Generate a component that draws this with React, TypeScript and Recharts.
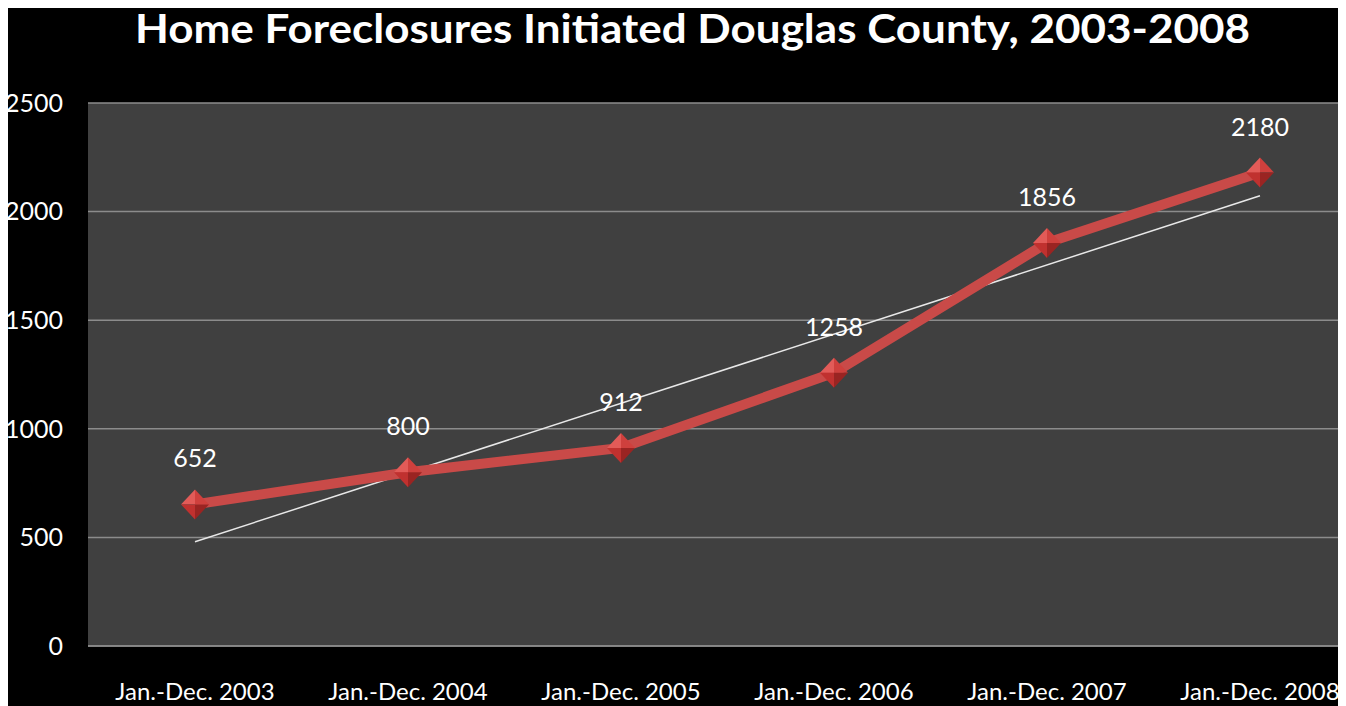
import { CartesianGrid, LabelList, Line, LineChart, ReferenceLine, XAxis, YAxis } from "recharts";

const TITLE = "Home Foreclosures Initiated Douglas County, 2003-2008";
const periods = ["Jan.-Dec. 2003", "Jan.-Dec. 2004", "Jan.-Dec. 2005", "Jan.-Dec. 2006", "Jan.-Dec. 2007", "Jan.-Dec. 2008"];
const foreclosures = [652, 800, 912, 1258, 1856, 2180];
const yTicks = [0, 500, 1000, 1500, 2000, 2500];
// linear trendline endpoints
const trendStart = 480;
const trendEnd = 2073;

const data = periods.map((period, i) => ({ period, value: foreclosures[i] }));

const FONT = "Lato, 'Open Sans', sans-serif";

function Diamond(props: any) {
  const { cx, cy } = props;
  if (cx == null || cy == null) return null;
  const w = 14;
  const h = 15;
  return (
    <g>
      <polygon points={`${cx},${cy} ${cx - w},${cy} ${cx},${cy - h}`} fill="#e25b58" />
      <polygon points={`${cx},${cy} ${cx},${cy - h} ${cx + w},${cy}`} fill="#cf403d" />
      <polygon points={`${cx},${cy} ${cx - w},${cy} ${cx},${cy + h}`} fill="#c0312f" />
      <polygon points={`${cx},${cy} ${cx},${cy + h} ${cx + w},${cy}`} fill="#9a2422" />
    </g>
  );
}

export default function App() {
  // body keeps its default 8px margin, which gives the white strip at top/left
  return (
    <div style={{ position: "relative", width: 1338, height: 698, background: "#000", overflow: "hidden" }}>
      <svg width={1338} height={60} style={{ position: "absolute", left: 0, top: 0 }}>
        <text
          x={127}
          y={35}
          fill="#fff"
          fontFamily={FONT}
          fontWeight={700}
          fontSize={41}
          textLength={1115}
          lengthAdjust="spacingAndGlyphs"
        >
          {TITLE}
        </text>
      </svg>
      <div style={{ position: "absolute", left: 0, top: 0 }}>
        <LineChart width={1358} height={698} data={data} margin={{ top: 95, right: 0, left: 0, bottom: 0 }}>
          <CartesianGrid vertical={false} fill="#404040" stroke="#8c8c8c" strokeWidth={1.5} />
          <XAxis
            dataKey="period"
            height={60}
            interval={0}
            padding={{ left: 107, right: 106 }}
            tickLine={false}
            tickSize={0}
            tickMargin={37}
            axisLine={{ stroke: "#8c8c8c", strokeWidth: 1.5 }}
            tick={{ fill: "#fff", fontSize: 24, fontFamily: FONT }}
          />
          <YAxis
            width={80}
            domain={[0, 2500]}
            ticks={yTicks}
            axisLine={false}
            tickLine={false}
            tickSize={0}
            tickMargin={25}
            tick={{ fill: "#fff", fontSize: 25, fontFamily: FONT }}
          />
          <ReferenceLine
            segment={[
              { x: periods[0], y: trendStart },
              { x: periods[periods.length - 1], y: trendEnd },
            ]}
            stroke="#e8e8e8"
            strokeWidth={1.5}
            ifOverflow="visible"
          />
          <Line
            type="linear"
            dataKey="value"
            stroke="#c94a48"
            strokeWidth={10}
            dot={<Diamond />}
            activeDot={false}
            isAnimationActive={false}
          >
            <LabelList
              dataKey="value"
              position="top"
              offset={37}
              fill="#fff"
              fontSize={25}
              fontFamily={FONT}
            />
          </Line>
        </LineChart>
      </div>
    </div>
  );
}
